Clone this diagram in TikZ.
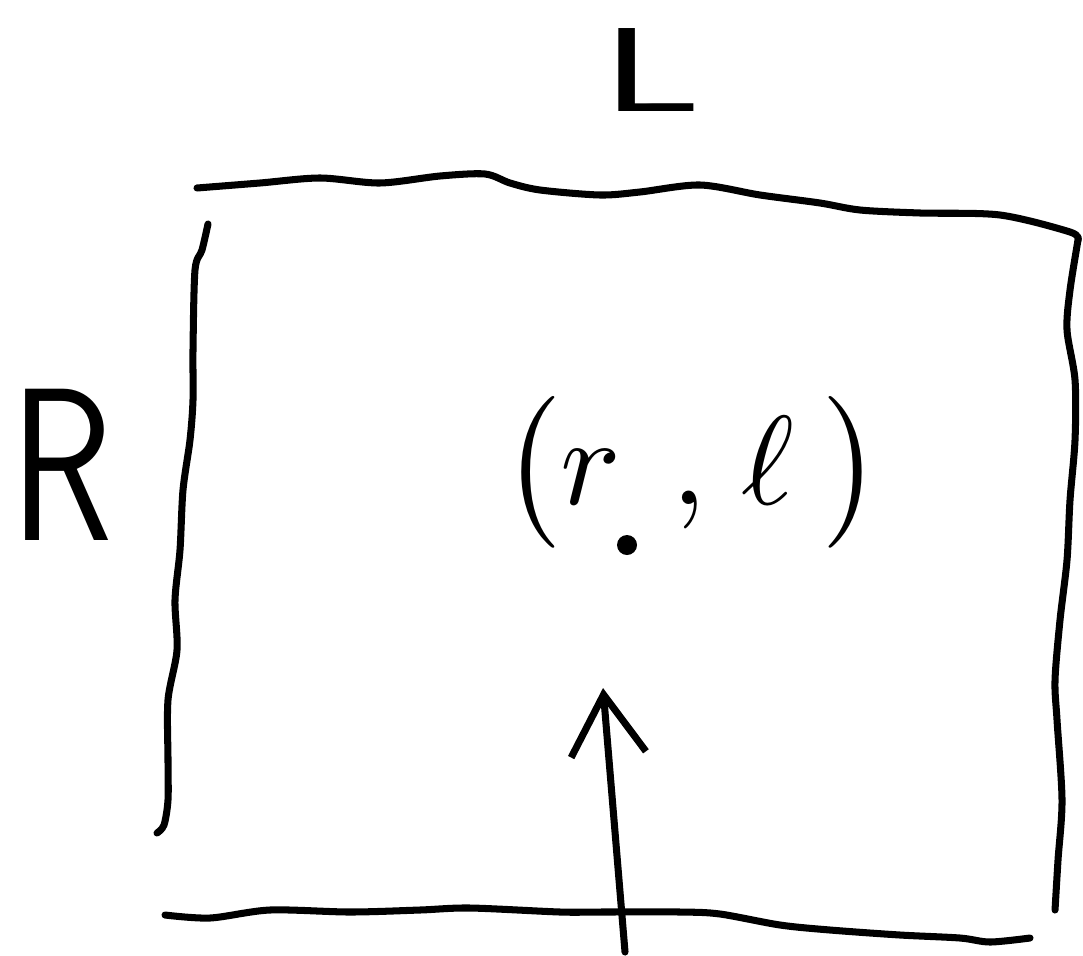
\documentclass[tikz,border=0pt]{standalone}
\usetikzlibrary{arrows.meta}
\begin{document}
\begin{tikzpicture}[x=0.01cm,y=-0.01cm,line cap=round,line join=round,
    pen/.style={line width=2pt},
    arr/.style={-{Straight Barb[length=6mm,width=7.5mm]}}]
  \useasboundingbox (0,0) rectangle (1083,955);
  % labels
  \node[font=\sffamily\fontsize{20}{24}\selectfont] (lblL) at (652,70) {\scalebox{2.8}[1.7]{L}};
  \node[font=\sffamily\fontsize{20}{24}\selectfont] (lblR) at (62,465) {\scalebox{2.41}[3.1]{R}};
  \node[anchor=base] (pt) at (692,504)
    {\scalebox{3.6}{$\bigl(r\hspace{0.14cm},\hspace{0.04cm}\ell\hspace{0.08cm}\bigr)$}};
  \node[circle,fill,inner sep=0pt,minimum size=0.2cm] (dot) at (627,545) {};
  % box sides
  \draw[pen] plot[smooth] coordinates {(197,188) (260,183) (320,178) (380,183) (440,176) (485,174)
    (510,183) (540,190) (600,195) (640,192) (700,185) (760,195) (820,203) (860,210) (920,213)
    (1000,215) (1070,232) (1078,240)};
  \draw[pen] plot[smooth] coordinates {(1078,240) (1070,290) (1067,330) (1075,380) (1075,440)
    (1070,500) (1067,560) (1060,620) (1055,680) (1057,720) (1062,800) (1058,860) (1055,910)};
  \draw[pen] plot[smooth] coordinates {(208,224) (202,250) (195,270) (193,350) (193,400) (190,440)
    (183,490) (180,550) (175,600) (177,650) (168,700) (168,760) (168,800) (164,825) (157,833)};
  \draw[pen] plot[smooth] coordinates {(165,915) (210,918) (270,910) (350,912) (420,910) (470,908)
    (560,912) (600,912) (680,912) (720,914) (780,925) (830,930) (900,935) (960,938) (990,942) (1030,938)};
  % arrow
  \coordinate (tail) at (625,952);
  \coordinate (head) at (603,688);
  \draw[pen,arr] (tail) -- (head);
\end{tikzpicture}
\end{document}
